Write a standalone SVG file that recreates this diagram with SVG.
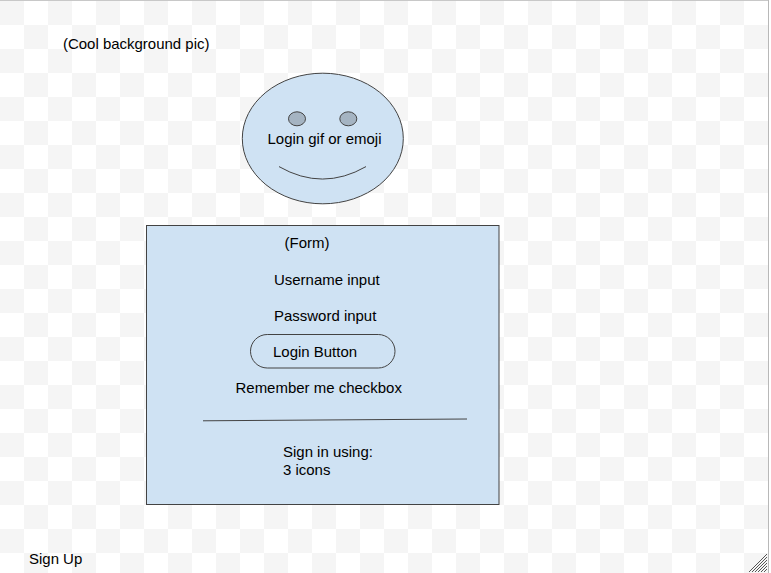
<svg xmlns="http://www.w3.org/2000/svg" width="771" height="573" viewBox="0 0 771 573">
<style>
text{font-family:"Liberation Sans",Arial,sans-serif;font-size:14.97px;fill:#000}
.s{fill:#cfe2f3;stroke:#434343;stroke-width:1}
.e{fill:#a5b4c2;stroke:#434343;stroke-width:1}
.l{fill:none;stroke:#434343;stroke-width:1}
</style>
<defs>
<pattern id="chk" width="48" height="48" patternUnits="userSpaceOnUse" y="1">
<rect width="48" height="48" fill="#fff"/>
<rect width="24" height="24" fill="#f5f5f5"/>
<rect x="24" y="24" width="24" height="24" fill="#f5f5f5"/>
</pattern>
</defs>
<rect width="771" height="573" fill="#fff"/>
<rect x="0" y="1" width="768" height="572" fill="url(#chk)"/>
<rect x="0" y="0" width="769" height="1" fill="#c8c8c8"/>
<rect x="768" y="0" width="1" height="573" fill="#b8b8b8"/>
<g id="grip" stroke="#555" stroke-width="1" fill="none">
<path d="M749 572L767 554M752 572L767 557M755 572L767 560M758 572L767 563M761 572L767 566M764 572L767 569"/>
</g>
<g id="background-label"><text x="63" y="48.500">(Cool background pic)</text></g>
<g id="face">
<ellipse class="s" cx="322.800" cy="138.500" rx="80.500" ry="65.300"/>
<ellipse class="e" cx="297" cy="118.800" rx="8.500" ry="7"/>
<ellipse class="e" cx="348.300" cy="118.800" rx="8.500" ry="7"/>
<path class="l" d="M279 166.600Q322.500 191.500 366 166.600"/>
<text x="267.500" y="144">Login gif or emoji</text>
</g>
<g id="form">
<rect class="s" x="146.500" y="225.500" width="352.500" height="279"/>
<text x="284.500" y="248">(Form)</text>
<text x="274" y="285">Username input</text>
<text x="274" y="321">Password input</text>
<text x="235.500" y="393">Remember me checkbox</text>
<text x="283" y="457">Sign in using:</text>
<text x="283" y="475">3 icons</text>
</g>
<g id="login-button">
<rect class="s" x="250.500" y="334.500" width="144.500" height="33.500" rx="16.750"/>
<text x="273" y="357">Login Button</text>
</g>
<g id="connectors">
<line class="l" x1="203" y1="420.800" x2="467" y2="419"/>
</g>
<g id="signup"><text x="29" y="564">Sign Up</text></g>
</svg>
